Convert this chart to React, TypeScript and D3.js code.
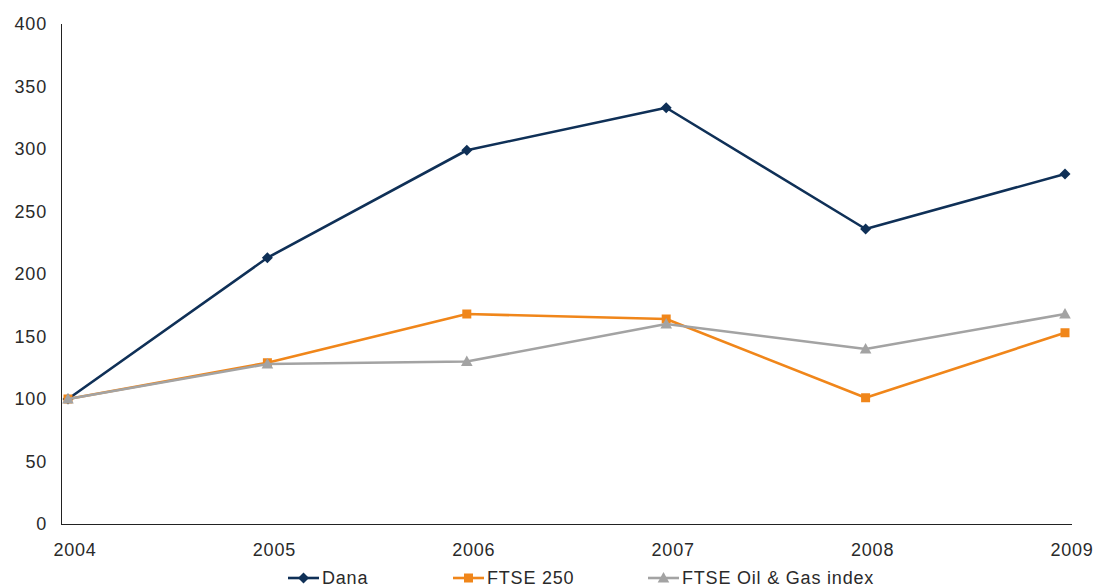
import React, { useEffect, useRef } from 'react';
import * as d3 from 'd3';

const years = ['2004', '2005', '2006', '2007', '2008', '2009'];
const dana = [100, 213, 299, 333, 236, 280];
const ftse250 = [100, 129, 168, 164, 101, 153];
const oilGas = [100, 128, 130, 160, 140, 168];
const yTicks = [0, 50, 100, 150, 200, 250, 300, 350, 400];

const seriesList = [
  { name: 'Dana', values: dana, color: '#0f3057', marker: 'diamond' },
  { name: 'FTSE 250', values: ftse250, color: '#f0861a', marker: 'square' },
  { name: 'FTSE Oil & Gas index', values: oilGas, color: '#a3a3a3', marker: 'triangle' },
];

// marker paths centred on 0,0
const markerPath = (m: string) => {
  if (m === 'diamond') return 'M0,-5.5L5.5,0L0,5.5L-5.5,0Z';
  if (m === 'square') return 'M-4.5,-4.5H4.5V4.5H-4.5Z';
  return 'M0,-6L5.8,4.5H-5.8Z';
};

const App = () => {
  const svgRef = useRef<SVGSVGElement>(null);

  useEffect(() => {
    const svg = d3.select(svgRef.current);
    svg.selectAll('*').remove();

    const font = '"Liberation Sans", Arial, sans-serif';
    const txt = (sel: any) => sel
      .style('font-family', font)
      .style('font-size', '18px')
      .style('letter-spacing', '0.8px')
      .attr('fill', '#2a2a2a');

    const x = d3.scalePoint().domain(years).range([68, 1065]);
    const y = d3.scaleLinear().domain([0, 400]).range([524, 24]);

    // axis lines
    svg.append('line')
      .attr('x1', 61.5).attr('x2', 61.5).attr('y1', 24).attr('y2', 524)
      .attr('stroke', '#222').attr('stroke-width', 1);
    svg.append('line')
      .attr('x1', 61).attr('x2', 1072).attr('y1', 524.5).attr('y2', 524.5)
      .attr('stroke', '#222').attr('stroke-width', 1);

    // y labels
    svg.append('g').selectAll('text')
      .data(yTicks)
      .enter().append('text')
      .attr('x', 47)
      .attr('y', d => y(d))
      .attr('dy', '0.35em')
      .attr('text-anchor', 'end')
      .call(txt)
      .text(d => d);

    // x labels
    svg.append('g').selectAll('text')
      .data(years)
      .enter().append('text')
      .attr('x', d => (x(d) as number) + 7)
      .attr('y', 556)
      .attr('text-anchor', 'middle')
      .call(txt)
      .text(d => d);

    const line = d3.line<number>()
      .x((d, i) => x(years[i]) as number)
      .y(d => y(d));

    seriesList.forEach(s => {
      const g = svg.append('g');
      g.append('path')
        .datum(s.values)
        .attr('d', line)
        .attr('fill', 'none')
        .attr('stroke', s.color)
        .attr('stroke-width', 2.6)
        .attr('stroke-linejoin', 'round');
      g.selectAll('path.m')
        .data(s.values)
        .enter().append('path')
        .attr('class', 'm')
        .attr('d', markerPath(s.marker))
        .attr('transform', (d, i) => `translate(${x(years[i])},${y(d)})`)
        .attr('fill', s.color);
    });

    // legend
    const legendX = [288, 453, 648];
    seriesList.forEach((s, i) => {
      const lg = svg.append('g').attr('transform', `translate(${legendX[i]},578)`);
      lg.append('line')
        .attr('x1', 0).attr('x2', 31).attr('y1', 0).attr('y2', 0)
        .attr('stroke', s.color).attr('stroke-width', 2.6);
      lg.append('path')
        .attr('d', markerPath(s.marker))
        .attr('transform', 'translate(15.5,0)')
        .attr('fill', s.color);
      lg.append('text')
        .attr('x', 34)
        .attr('y', 0)
        .attr('dy', '0.33em')
        .call(txt)
        .text(s.name);
    });
  }, []);

  return (
    <svg
      ref={svgRef}
      width={1096}
      height={587}
      style={{ position: 'absolute', left: 0, top: 0, background: 'white' }}
    />
  );
};

export default App;
